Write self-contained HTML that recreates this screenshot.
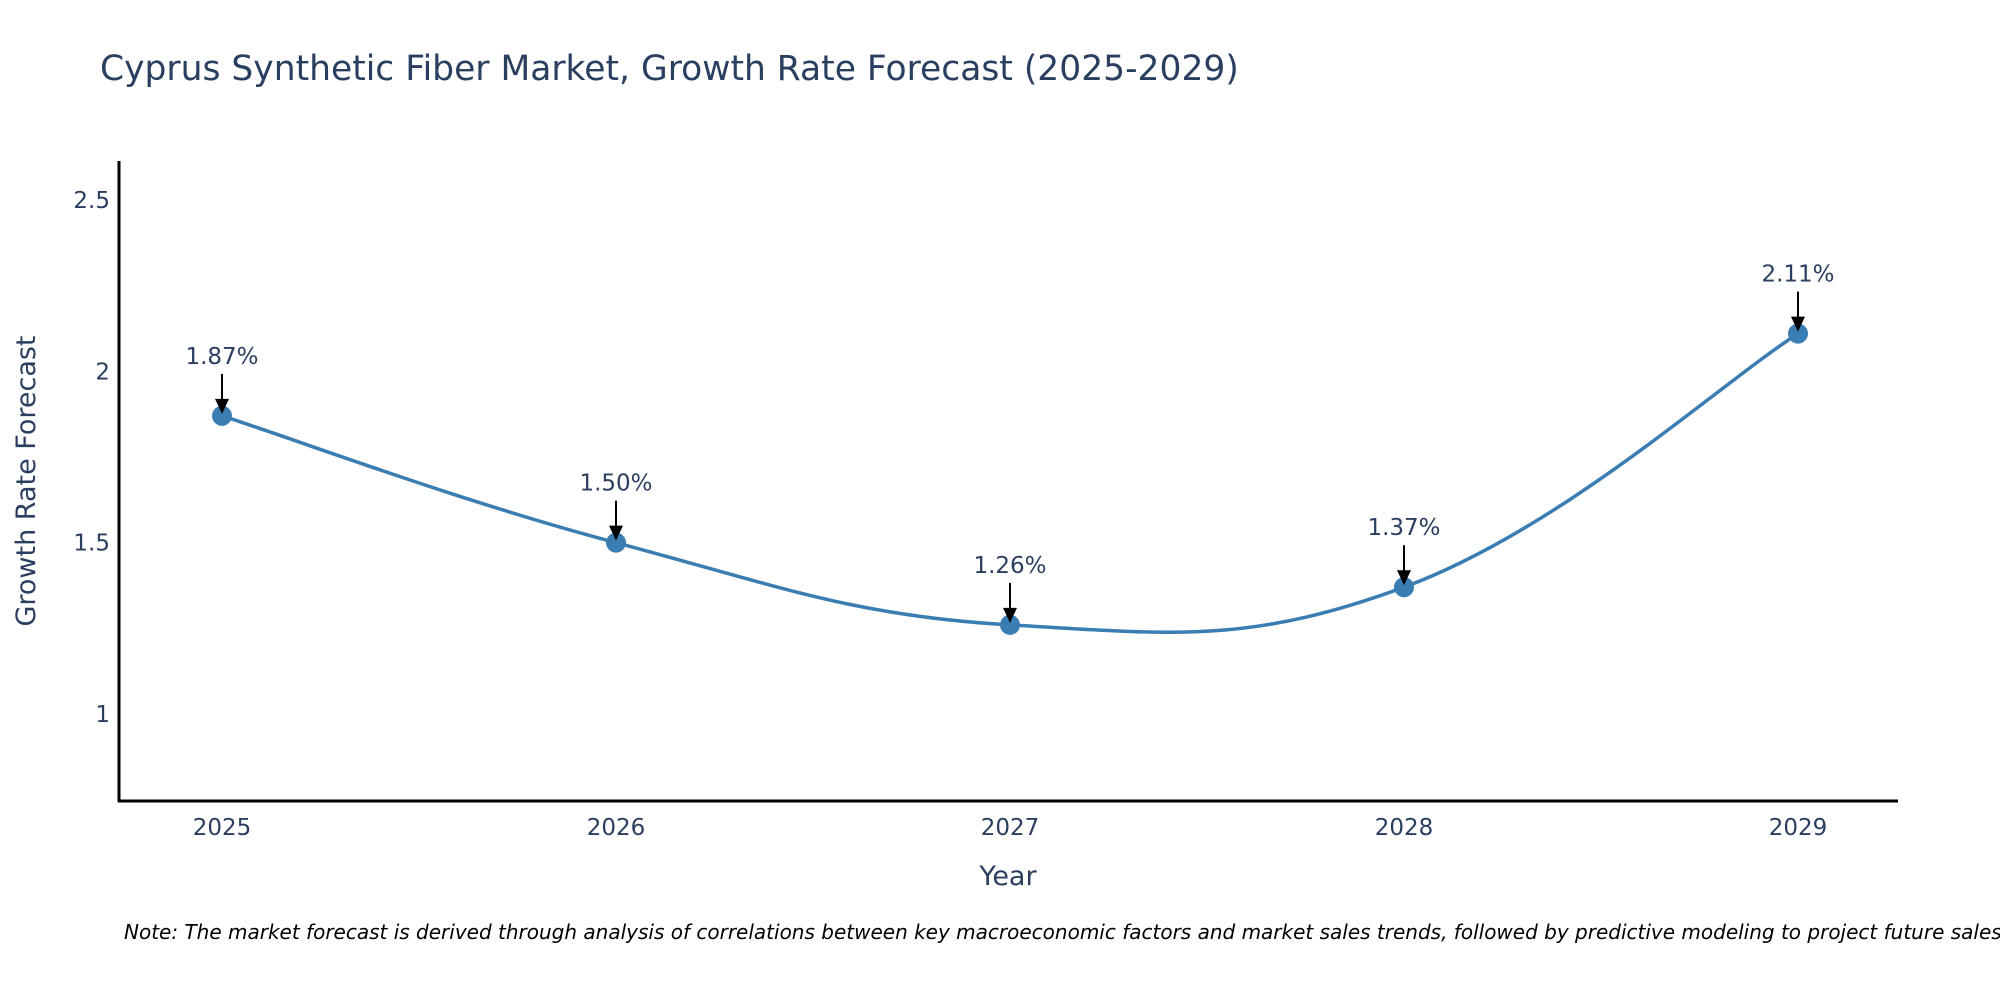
<!DOCTYPE html>
<html><head><meta charset="utf-8"><style>
body{margin:0;background:#fff;}
svg{display:block;font-family:"DejaVu Sans","Liberation Sans",sans-serif;}
</style></head><body>
<svg id="chart" width="2000" height="1000">
<text x="100" y="80" font-size="34.5" fill="#2a3f5f">Cyprus Synthetic Fiber Market, Growth Rate Forecast (2025-2029)</text>
<g id="yticks"></g>
<g id="xticks"></g>
<path id="line" fill="none" stroke="#3a7db3" stroke-width="3.5"/>
<g id="marks"></g>
<line x1="119" y1="161" x2="119" y2="802" stroke="#000" stroke-width="3"/>
<line x1="118" y1="801" x2="1898" y2="801" stroke="#000" stroke-width="3"/>
<text x="1008" y="885" font-size="27" fill="#2a3f5f" text-anchor="middle">Year</text>
<text transform="translate(35,481) rotate(-90)" font-size="27" fill="#2a3f5f" text-anchor="middle">Growth Rate Forecast</text>
<text x="124" y="939" font-size="20" font-style="italic" fill="#000">Note: The market forecast is derived through analysis of correlations between key macroeconomic factors and market sales trends, followed by predictive modeling to project future sales.</text>
</svg>
<script>
const years=[2025,2026,2027,2028,2029];
const values=[1.87,1.50,1.26,1.37,2.11];
const labels=["1.87%","1.50%","1.26%","1.37%","2.11%"];
const yTicks=[1,1.5,2,2.5];
const yTickLabels=["1","1.5","2","2.5"];
const NS="http://www.w3.org/2000/svg";
function xs(y){return 222+(y-2025)*394;}
function ys(v){return 714-(v-1)*342.7;}
function mk(t,a,p){const e=document.createElementNS(NS,t);for(const k in a)e.setAttribute(k,a[k]);p.appendChild(e);return e;}
const yt=document.getElementById('yticks');
yTicks.forEach((v,i)=>{const t=mk('text',{x:110,y:ys(v)+8,'font-size':23,fill:'#2a3f5f','text-anchor':'end'},yt);


t.textContent=yTickLabels[i];});
const xt=document.getElementById('xticks');
years.forEach(y=>{const t=mk('text',{x:xs(y),y:835,'font-size':23,fill:'#2a3f5f','text-anchor':'middle'},xt);


t.textContent=y;});
const P=years.map((y,i)=>[xs(y),ys(values[i])]);
let d='M'+P[0][0]+','+P[0][1];
const s=0.2;
for(let i=0;i<P.length-1;i++){const p0=P[Math.max(i-1,0)],p1=P[i],p2=P[i+1],p3=P[Math.min(i+2,P.length-1)];
d+=' C'+(p1[0]+(p2[0]-p0[0])*s)+','+(p1[1]+(p2[1]-p0[1])*s)+' '+(p2[0]-(p3[0]-p1[0])*s)+','+(p2[1]-(p3[1]-p1[1])*s)+' '+p2[0]+','+p2[1];}
document.getElementById('line').setAttribute('d',d);
const m=document.getElementById('marks');
P.forEach((p,i)=>{
const c=mk('circle',{cx:p[0],cy:p[1],r:10,fill:'#3a7db3'},m);


const l=mk('line',{x1:p[0],y1:p[1]-42,x2:p[0],y2:p[1]-14,stroke:'#000','stroke-width':2},m);


const a=mk('polygon',{points:(p[0]-7)+','+(p[1]-17)+' '+(p[0]+7)+','+(p[1]-17)+' '+p[0]+','+(p[1]-2),fill:'#000'},m);


const t=mk('text',{x:p[0],y:p[1]-52,'font-size':23,fill:'#2a3f5f','text-anchor':'middle'},m);


t.textContent=labels[i];});
</script>
</body></html>
